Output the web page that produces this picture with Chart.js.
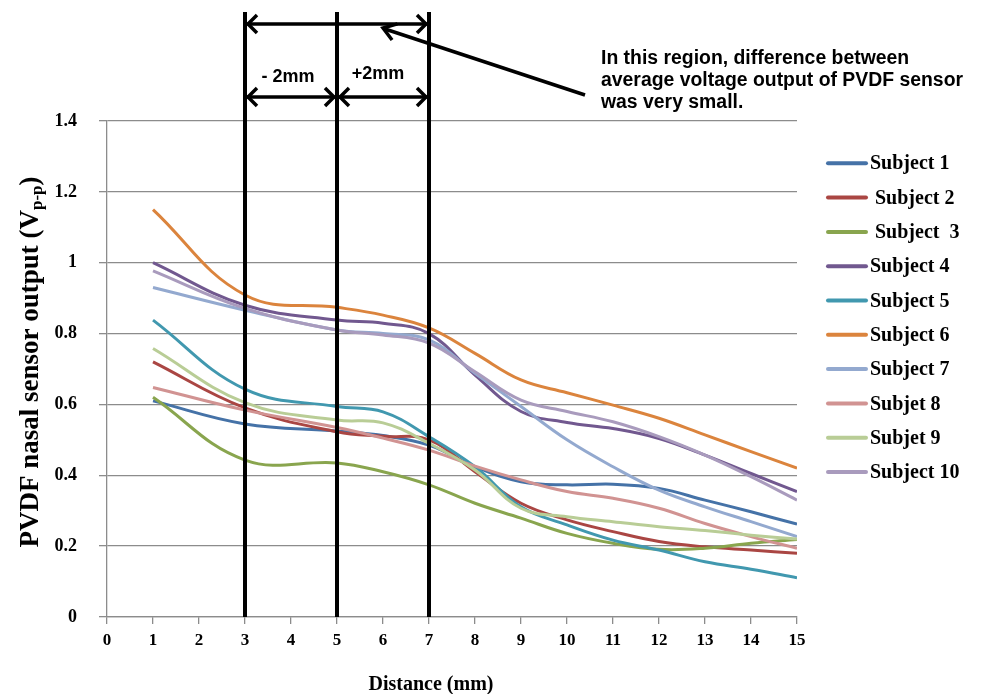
<!DOCTYPE html>
<html>
<head>
<meta charset="utf-8">
<script src="https://cdn.jsdelivr.net/npm/chart.js@4.4.0/dist/chart.umd.min.js"></script>
<style>
  html, body { margin: 0; padding: 0; background: #fff; }
  canvas { display: block; }
</style>
</head>
<body>
<canvas id="chart" width="981" height="694"></canvas>
<script>
// distances (mm) where the curves were read
const distances = [1, 3, 5, 6, 7, 8, 9, 10, 11, 12, 13, 14, 15];

const subject1  = [0.61, 0.545, 0.525, 0.512, 0.485, 0.424, 0.382, 0.373, 0.375, 0.363, 0.33, 0.297, 0.262];
const subject2  = [0.72, 0.59, 0.523, 0.51, 0.50, 0.41, 0.321, 0.274, 0.241, 0.213, 0.198, 0.189, 0.18];
const subject3  = [0.62, 0.443, 0.435, 0.41, 0.373, 0.321, 0.279, 0.236, 0.208, 0.191, 0.194, 0.208, 0.219];
const subject4  = [1.0, 0.88, 0.838, 0.829, 0.80, 0.683, 0.58, 0.549, 0.532, 0.504, 0.457, 0.405, 0.354];
const subject5  = [0.838, 0.643, 0.594, 0.579, 0.509, 0.424, 0.311, 0.26, 0.217, 0.189, 0.156, 0.135, 0.111];
const subject6  = [1.15, 0.909, 0.874, 0.852, 0.816, 0.744, 0.669, 0.633, 0.598, 0.561, 0.514, 0.467, 0.42];
const subject7  = [0.93, 0.866, 0.81, 0.80, 0.782, 0.688, 0.594, 0.50, 0.424, 0.358, 0.311, 0.269, 0.227];
const subject8  = [0.648, 0.584, 0.535, 0.505, 0.471, 0.426, 0.387, 0.354, 0.335, 0.307, 0.264, 0.227, 0.194];
const subject9  = [0.758, 0.605, 0.556, 0.548, 0.49, 0.415, 0.307, 0.283, 0.269, 0.255, 0.244, 0.231, 0.22];
const subject10 = [0.977, 0.871, 0.81, 0.796, 0.773, 0.692, 0.612, 0.58, 0.551, 0.509, 0.457, 0.396, 0.33];

const seriesLabels = ['Subject 1', ' Subject 2', ' Subject  3', 'Subject 4', 'Subject 5',
                      'Subject 6', 'Subject 7', 'Subjet 8', 'Subjet 9', 'Subject 10'];
const seriesColors = ['#4572A7', '#AA4643', '#89A54E', '#71588F', '#4198AF',
                      '#DB843D', '#93A9CF', '#D19392', '#B9CD96', '#A99BBD'];

const xTicks = [0, 1, 2, 3, 4, 5, 6, 7, 8, 9, 10, 11, 12, 13, 14, 15];
const yTicks = [0, 0.2, 0.4, 0.6, 0.8, 1, 1.2, 1.4];

// region markers (mm)
const markerX = [3, 5, 7];

const allSeries = [subject1, subject2, subject3, subject4, subject5,
                   subject6, subject7, subject8, subject9, subject10];

const datasets = allSeries.map((vals, i) => ({
  label: seriesLabels[i],
  data: vals.map((v, j) => ({ x: distances[j], y: v })),
  borderColor: seriesColors[i],
  borderWidth: 3,
  pointRadius: 0,
  tension: 0.4,
  fill: false,
  order: allSeries.length - i
}));

function chevron(ctx, x, y, dir) {
  ctx.beginPath();
  ctx.moveTo(x + dir * 9, y - 9);
  ctx.lineTo(x, y);
  ctx.lineTo(x + dir * 9, y + 9);
  ctx.stroke();
}

function doubleArrow(ctx, x1, x2, y) {
  ctx.beginPath();
  ctx.moveTo(x1 + 2, y);
  ctx.lineTo(x2 - 2, y);
  ctx.stroke();
  chevron(ctx, x1 + 3, y, 1);
  chevron(ctx, x2 - 3, y, -1);
}

const overlay = {
  id: 'overlay',
  afterDatasetsDraw(chart) {
    const ctx = chart.ctx;
    const xs = chart.scales.x, ys = chart.scales.y;
    const px = v => xs.getPixelForValue(v);
    ctx.save();
    ctx.strokeStyle = '#000';
    ctx.lineCap = 'butt';

    // vertical marker lines
    ctx.lineWidth = 4;
    markerX.forEach(v => {
      ctx.beginPath();
      ctx.moveTo(px(v), 12);
      ctx.lineTo(px(v), ys.bottom);
      ctx.stroke();
    });

    // arrows
    ctx.lineWidth = 3.5;
    doubleArrow(ctx, px(3), px(7), 24);
    doubleArrow(ctx, px(3), px(5), 97);
    doubleArrow(ctx, px(5), px(7), 97);

    // pointer
    const tipX = px(6), tipY = 28, tailX = 585, tailY = 95;
    ctx.beginPath();
    ctx.moveTo(tailX, tailY);
    ctx.lineTo(tipX + 2, tipY + 1);
    ctx.stroke();
    const ang = Math.atan2(tailY - tipY, tailX - tipX);
    const hl = 15, spread = 0.6;
    ctx.beginPath();
    ctx.moveTo(tipX + hl * Math.cos(ang - spread), tipY + hl * Math.sin(ang - spread));
    ctx.lineTo(tipX, tipY);
    ctx.lineTo(tipX + hl * Math.cos(ang + spread), tipY + hl * Math.sin(ang + spread));
    ctx.stroke();

    // labels on the arrows
    ctx.fillStyle = '#000';
    ctx.font = 'bold 18px "Liberation Sans", Arial, sans-serif';
    ctx.textAlign = 'center';
    ctx.textBaseline = 'middle';
    ctx.fillText('- 2mm', 288, 77);
    ctx.fillText('+2mm', 378, 74);

    // note text
    ctx.textAlign = 'left';
    ctx.font = 'bold 19.4px "Liberation Sans", Arial, sans-serif';
    ctx.fillText('In this region, difference between', 601, 59);
    ctx.fillText('average voltage output of PVDF sensor', 601, 81);
    ctx.fillText('was very small.', 601, 103);
    ctx.restore();
  },
  afterDraw(chart) {
    const ctx = chart.ctx;
    ctx.save();
    ctx.fillStyle = '#000';

    // legend
    ctx.font = 'bold 20px "Liberation Serif", "Times New Roman", serif';
    ctx.textBaseline = 'middle';
    ctx.textAlign = 'left';
    seriesLabels.forEach((lab, i) => {
      const y = 163.3 + i * 34.3;
      ctx.strokeStyle = seriesColors[i];
      ctx.lineWidth = 4;
      ctx.lineCap = 'round';
      ctx.beginPath();
      ctx.moveTo(828, y);
      ctx.lineTo(866, y);
      ctx.stroke();
      ctx.fillText(lab, 870, y + 1);
    });

    // x axis title
    ctx.textAlign = 'center';
    ctx.font = 'bold 20px "Liberation Serif", "Times New Roman", serif';
    ctx.fillText('Distance (mm)', 431, 685);

    // y axis title with subscript
    const mainTxt = 'PVDF nasal sensor output (V';
    const subTxt = 'p-p';
    const endTxt = ')';
    const mainFont = 'bold 27px "Liberation Serif", "Times New Roman", serif';
    const subFont = 'bold 17px "Liberation Serif", "Times New Roman", serif';
    ctx.font = mainFont;
    const w1 = ctx.measureText(mainTxt).width;
    const w3 = ctx.measureText(endTxt).width;
    ctx.font = subFont;
    const w2 = ctx.measureText(subTxt).width;
    const total = w1 + w2 + w3;
    ctx.translate(29, 362);
    ctx.rotate(-Math.PI / 2);
    ctx.textAlign = 'left';
    ctx.textBaseline = 'alphabetic';
    const x0 = -total / 2;
    ctx.font = mainFont;
    ctx.fillText(mainTxt, x0, 9);
    ctx.font = subFont;
    ctx.fillText(subTxt, x0 + w1, 13);
    ctx.font = mainFont;
    ctx.fillText(endTxt, x0 + w1 + w2, 9);
    ctx.restore();
  }
};

new Chart(document.getElementById('chart').getContext('2d'), {
  type: 'line',
  data: { datasets },
  options: {
    responsive: false,
    animation: false,
    layout: { padding: { top: 121, right: 184, left: 0, bottom: 0 } },
    plugins: {
      legend: { display: false },
      tooltip: { enabled: false }
    },
    scales: {
      x: {
        type: 'linear',
        min: 0,
        max: 15,
        afterFit: s => { s.height = 77; },
        afterBuildTicks: s => { s.ticks = xTicks.map(v => ({ value: v })); },
        grid: { drawOnChartArea: false, drawTicks: true, tickLength: 7, color: '#8c8c8c', lineWidth: 1.3 },
        border: { display: true, color: '#8c8c8c', width: 1.3 },
        ticks: {
          padding: 6,
          color: '#000',
          font: { family: '"Liberation Serif", "Times New Roman", serif', size: 17, weight: 'bold' },
          callback: v => String(v)
        }
      },
      y: {
        min: 0,
        max: 1.4,
        afterFit: s => { s.width = 107; },
        afterBuildTicks: s => { s.ticks = yTicks.map(v => ({ value: v })); },
        grid: { drawOnChartArea: true, drawTicks: true, tickLength: 8, color: '#8c8c8c', lineWidth: 1.3 },
        border: { display: true, color: '#8c8c8c', width: 1.3 },
        ticks: {
          padding: 22,
          color: '#000',
          font: { family: '"Liberation Serif", "Times New Roman", serif', size: 18, weight: 'bold' },
          callback: v => String(Math.round(v * 10) / 10)
        }
      }
    }
  },
  plugins: [overlay]
});
</script>
</body>
</html>
